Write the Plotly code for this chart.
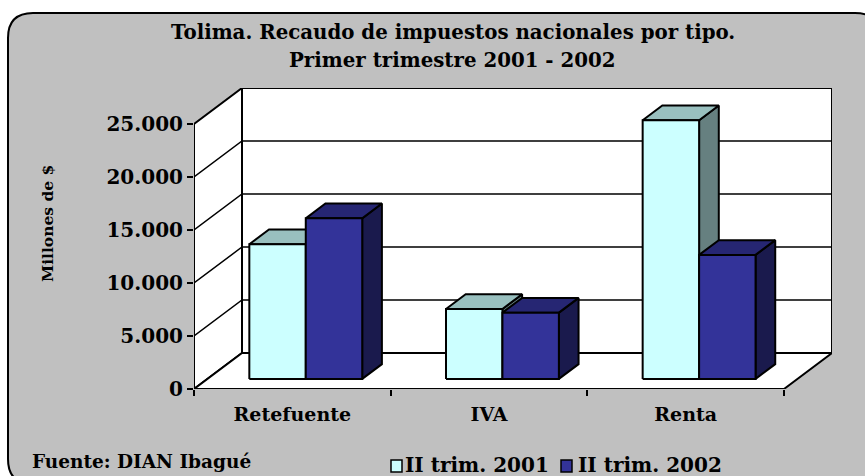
import plotly.graph_objects as go

# datos (millones de $)
categorias = ["Retefuente", "IVA", "Renta"]
trim_2001 = [12700, 6600, 24400]
trim_2002 = [15150, 6250, 11700]
y_ticks = [0, 5000, 10000, 15000, 20000, 25000]
y_labels = ["0", "5.000", "10.000", "15.000", "20.000", "25.000"]

W, H = 865, 476
# plano frontal del eje en pixeles
X0, X1, Y0, Y25 = 194, 784, 389, 124
DEPTH_PX_X, DEPTH_PX_Y = 48, 36

px_x = (X1 - X0) / len(categorias)
px_y = (Y0 - Y25) / 25000
DX = DEPTH_PX_X / px_x
DY = DEPTH_PX_Y / px_y
BAR_W = 0.287
D_FRONT = 0.28
D_BACK = 0.69
FONT = "DejaVu Serif"


# pixeles a coordenadas paper
def pap_x(x):
    return (x - X0) / (X1 + DEPTH_PX_X - X0)


def pap_y(y):
    return (Y0 - y) / (Y0 - Y25 + DEPTH_PX_Y)


def poly(fill, xs, ys, lw=2):
    return go.Scatter(x=xs, y=ys, mode="lines", fill="toself", fillcolor=fill,
                      line=dict(color="black", width=lw), hoverinfo="skip", showlegend=False)


def line(xs, ys, lw=1.5, color="black"):
    return go.Scatter(x=xs, y=ys, mode="lines", line=dict(color=color, width=lw),
                      hoverinfo="skip", showlegend=False)


def caras(valores, lado, colores):
    # lado: -1 barra izquierda, 0 barra derecha
    fx, fy, tx, ty, sx, sy = [], [], [], [], [], []
    for i, v in enumerate(valores):
        c = i + 0.5
        x0 = c + lado * BAR_W + D_FRONT * DX
        x1 = x0 + BAR_W
        b = D_FRONT * DY
        t = b + v
        ddx = (D_BACK - D_FRONT) * DX
        ddy = (D_BACK - D_FRONT) * DY
        fx += [x0, x1, x1, x0, x0, None]
        fy += [b, b, t, t, b, None]
        tx += [x0, x1, x1 + ddx, x0 + ddx, x0, None]
        ty += [t, t, t + ddy, t + ddy, t, None]
        sx += [x1, x1 + ddx, x1 + ddx, x1, x1, None]
        sy += [b, b + ddy, t + ddy, t, b, None]
    return [poly(colores[2], sx, sy), poly(colores[1], tx, ty), poly(colores[0], fx, fy)]


n = len(categorias)
top = y_ticks[-1]
fig = go.Figure()

# paredes y piso
fig.add_trace(poly("white", [0, DX, DX, 0, 0], [0, DY, top + DY, top, 0]))
fig.add_trace(poly("white", [DX, n + DX, n + DX, DX, DX], [DY, DY, top + DY, top + DY, DY]))
fig.add_trace(poly("white", [0, n, n + DX, DX, 0], [0, 0, DY, DY, 0]))

# lineas de division
for v in y_ticks[1:-1]:
    fig.add_trace(line([0, DX, n + DX], [v, v + DY, v + DY]))

# barras
COL_2001 = ["#CCFFFF", "#99C0BF", "#668080"]
COL_2002 = ["#333399", "#262673", "#1A1A4D"]
for tr in caras(trim_2001, -1, COL_2001):
    fig.add_trace(tr)
for tr in caras(trim_2002, 0, COL_2002):
    fig.add_trace(tr)

# ejes frontales
fig.add_trace(line([0, 0], [0, top], 2))
fig.add_trace(line([0, n], [0, 0], 2))

annots = [
    dict(text="<b>Tolima. Recaudo de impuestos nacionales por tipo.</b>", x=453, y=32, size=19.8),
    dict(text="<b>Primer trimestre 2001 - 2002</b>", x=452, y=60, size=19.8),
    dict(text="<b>Fuente: DIAN Ibagué</b>", x=141, y=461, size=18.5),
    dict(text="<b>II trim. 2001</b>", x=477, y=465, size=20),
    dict(text="<b>II trim. 2002</b>", x=650, y=465, size=20),
]
annotations = [dict(text=a["text"], x=pap_x(a["x"]), y=pap_y(a["y"]), xref="paper", yref="paper",
                    xanchor="center", yanchor="middle", showarrow=False,
                    font=dict(family=FONT, size=a["size"], color="black")) for a in annots]
annotations.append(dict(text="<b>Millones de $</b>", x=pap_x(47), y=pap_y(224), xref="paper", yref="paper",
                        xanchor="center", yanchor="middle", showarrow=False, textangle=-90,
                        font=dict(family=FONT, size=15.5, color="black")))

# marco redondeado y cuadros de la leyenda
R = 25
L, T, B, RR = 8, 13, 484, 880
marco = (f"M {pap_x(RR)} {pap_y(T + R)} Q {pap_x(RR)} {pap_y(T)} {pap_x(RR - R)} {pap_y(T)} "
         f"L {pap_x(L + R)} {pap_y(T)} Q {pap_x(L)} {pap_y(T)} {pap_x(L)} {pap_y(T + R)} "
         f"L {pap_x(L)} {pap_y(B - R)} Q {pap_x(L)} {pap_y(B)} {pap_x(L + R)} {pap_y(B)} "
         f"L {pap_x(RR)} {pap_y(B)} Z")
shapes = [dict(type="path", path=marco, xref="paper", yref="paper", fillcolor="#C0C0C0",
               line=dict(color="black", width=2), layer="below")]
for x, col in [(391, COL_2001[0]), (561, COL_2002[0])]:
    shapes.append(dict(type="rect", xref="paper", yref="paper", x0=pap_x(x), x1=pap_x(x + 11),
                       y0=pap_y(472), y1=pap_y(460), fillcolor=col, line=dict(color="black", width=1.5)))

fig.update_layout(
    width=W,
    height=H,
    margin=dict(l=X0, r=W - X1 - DEPTH_PX_X, t=Y25 - DEPTH_PX_Y, b=H - Y0),
    paper_bgcolor="white",
    plot_bgcolor="rgba(0,0,0,0)",
    showlegend=False,
    shapes=shapes,
    annotations=annotations,
    xaxis=dict(
        range=[0, n + DX],
        tickmode="array",
        tickvals=[i + 0.5 for i in range(n)],
        ticktext=[f"<b>{c}</b>" for c in categorias],
        ticks="",
        showgrid=False,
        zeroline=False,
        showline=False,
        tickfont=dict(family=FONT, size=19, color="black"),
        ticklabelstandoff=12,
        minor=dict(tickmode="array", tickvals=list(range(n + 1)), ticks="outside", ticklen=6,
                   tickwidth=1.5, tickcolor="black", showgrid=False),
    ),
    yaxis=dict(
        range=[0, top + DY],
        tickmode="array",
        tickvals=y_ticks,
        ticktext=[f"<b>{t}</b>" for t in y_labels],
        ticks="outside",
        ticklen=6,
        tickwidth=1.5,
        tickcolor="black",
        showgrid=False,
        zeroline=False,
        showline=False,
        tickfont=dict(family=FONT, size=20, color="black"),
    ),
)

fig.write_html("out.html", config={"displayModeBar": False}, post_script="document.body.style.margin='0';")
